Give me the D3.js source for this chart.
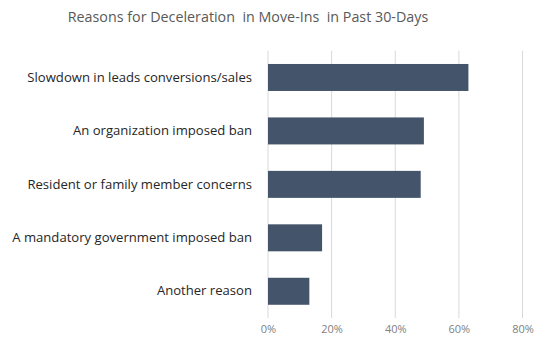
<!DOCTYPE html>
<html><head><meta charset="utf-8">
<script src="https://cdn.jsdelivr.net/npm/d3@7/dist/d3.min.js"></script>
<style>body{margin:0;background:#fff}svg{display:block}</style>
</head><body>
<svg id="c" width="535" height="341"></svg>
<script>
const categories = ["Slowdown in leads conversions/sales","An organization imposed ban","Resident or family member concerns","A mandatory government imposed ban","Another reason"];
const values = [0.63, 0.49, 0.48, 0.17, 0.13];
const tickValues = [0, 0.2, 0.4, 0.6, 0.8];
const title = "Reasons for Deceleration  in Move-Ins  in Past 30-Days";

(function () {
const svg = d3.select("#c");
const mLeft = 268, mRight = 522.5, mTop = 50.75, mBottom = 318;
const x = d3.scaleLinear().domain([0, 0.8]).range([mLeft, mRight]);
const y = d3.scaleBand().domain(categories).range([mTop, mBottom]).paddingInner(0.495).paddingOuter(0.2475);

svg.append("text").attr("x", 248).attr("y", 22).attr("text-anchor", "middle")
  .attr("font-family", "Open Sans").attr("font-size", 14.3).attr("fill", "#595959")
  .style("white-space", "pre").text(title);

svg.append("g").selectAll("line").data(tickValues).join("line")
  .attr("x1", d => x(d)).attr("x2", d => x(d)).attr("y1", mTop).attr("y2", mBottom)
  .attr("stroke", "#d9d9d9").attr("stroke-width", 1);

svg.append("g").selectAll("rect").data(values).join("rect")
  .attr("x", x(0)).attr("y", (d, i) => y(categories[i]))
  .attr("width", d => x(d) - x(0)).attr("height", y.bandwidth())
  .attr("fill", "#44546a");

const ax = d3.axisBottom(x).tickValues(tickValues).tickFormat(d3.format(".0%")).tickSize(0).tickPadding(0);
const g = svg.append("g").attr("transform", `translate(0,${mBottom})`).call(ax);
g.select(".domain").remove();
g.selectAll("text").attr("font-family", "Open Sans").attr("font-size", 11).attr("fill", "#7f7f7f").attr("dy", "1.35em");

const ay = d3.axisLeft(y).tickSize(0).tickPadding(0);
const gy = svg.append("g").attr("transform", `translate(252,0)`).call(ay);
gy.select(".domain").remove();
gy.selectAll("text").attr("font-family", "Open Sans").attr("font-size", 13.1).attr("fill", "#262626");
})();
</script>
</body></html>
